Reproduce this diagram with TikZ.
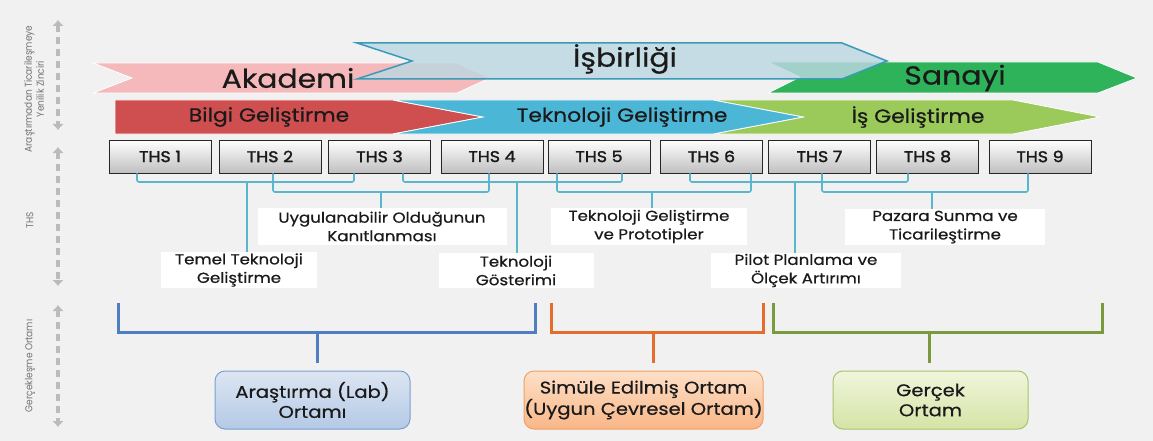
\documentclass[tikz,border=0pt]{standalone}
\usepackage{fontspec}
\setmainfont{Poppins}[FakeStretch=1.15,FakeBold=0.6]
\newfontfamily\thsf{Poppins}[FakeStretch=1.12,FakeBold=1.8]
\newfontfamily\axf{Poppins}[FakeStretch=0.9]
\usetikzlibrary{arrows.meta}
\definecolor{bgc}{HTML}{F1F1F1}
\definecolor{akc}{HTML}{F5B9BB}
\definecolor{isc}{HTML}{BCD8E2}
\definecolor{isd}{HTML}{3B9AB8}
\definecolor{sac}{HTML}{2EB35B}
\definecolor{bgl}{HTML}{CF4F50}
\definecolor{tkc}{HTML}{4BB6D6}
\definecolor{igc}{HTML}{9BC95A}
\definecolor{cnc}{HTML}{5AB6CC}
\definecolor{ubc}{HTML}{4F7FC0}
\definecolor{uoc}{HTML}{E46C2C}
\definecolor{ugc}{HTML}{7A9A3E}
\definecolor{txc}{HTML}{1A1A1A}
\definecolor{axc}{HTML}{BBBBBB}
\definecolor{e1d}{HTML}{7A9FD0}
\definecolor{e1t}{HTML}{DCE6F2}
\definecolor{e1b}{HTML}{B4C9E6}
\definecolor{e2d}{HTML}{F2A064}
\definecolor{e2t}{HTML}{FDE0C8}
\definecolor{e2b}{HTML}{F9B687}
\definecolor{e3d}{HTML}{A8C46A}
\definecolor{e3t}{HTML}{F0F5DC}
\definecolor{e3b}{HTML}{D5E4A6}
\newcommand\fsz[2]{\fontsize{#1}{#2}\selectfont}
\begin{document}
\begin{tikzpicture}[x=1pt,y=-1pt,
  band/.style={draw=white,line width=0.8pt},
  bigtxt/.style={text=txc,font=\fsz{26}{28}},
  bandtxt/.style={text=txc,font=\fsz{19}{21}},
  ths/.style={draw=black!85,line width=0.9pt,top color=white,bottom color=black!25,
    minimum width=102pt,minimum height=33pt,inner sep=0pt,text=txc,font=\thsf\fsz{15.5}{17}},
  lab/.style={fill=white,align=center,inner sep=0pt,text=txc,font=\fsz{14.5}{18.5}},
  conn/.style={draw=cnc,line width=1.6pt,rounded corners=2pt},
  ubr/.style={line width=3pt},
  env/.style={rounded corners=10pt,line width=1pt,align=center,inner sep=0pt,
    minimum height=58pt,text=txc,font=\fsz{17}{20}},
  axis/.style={draw=axc,line width=4pt,dash pattern=on 7pt off 5pt,
    {Latex[length=6pt,width=12pt]}-{Latex[length=6pt,width=12pt]}},
  axtxt/.style={rotate=90,text=black!55,font=\axf\fsz{10}{12},align=center}]
\useasboundingbox (0,0) rectangle (1153,441);
\fill[bgc] (0,0) rectangle (1153,441);

% left axis
\draw[axis] (58,20) -- (58,130);
\draw[axis] (58,147) -- (58,286);
\draw[axis] (58,305) -- (58,427);
\node[axtxt] (ax1) at (34,89) {Araştırmadan Ticarileşmeye\\Yenilik Zinciri};
\node[axtxt] (ax2) at (30,220) {THS};
\node[axtxt] (ax3) at (30,366) {Gerçekleşme Ortamı};

% top row
\fill[akc,band] (93,63) -- (457,63) -- (490,78) -- (457,93) -- (93,93) -- (132,78) -- cycle;
\fill[sac,band] (768,62) -- (1098,62) -- (1137,78) -- (1098,93) -- (768,93) -- (800,77) -- cycle;
\filldraw[fill=isc,fill opacity=0.82,draw=isd,line width=1.5pt]
  (357,43) -- (842,43) -- (887,61) -- (842,79) -- (357,79) -- (412,61) -- cycle;
\node[bigtxt] (akademi) at (288,78) {Akademi};
\node[bigtxt] (isbirligi) at (625,59) {İşbirliği};
\node[bigtxt] (sanayi) at (955,78) {Sanayi};

% second row
\fill[bgl,band] (115,100) -- (393,100) -- (483,117) -- (393,134) -- (115,134) -- cycle;
\fill[igc,band] (713,100) -- (1013,100) -- (1100,117) -- (1013,134) -- (713,134) -- (803,117) -- cycle;
\fill[tkc,band] (393,100) -- (713,100) -- (803,117) -- (713,134) -- (393,134) -- (483,117) -- cycle;
\node[bandtxt] (bilgi) at (269,117) {Bilgi Geliştirme};
\node[bandtxt] (tekno) at (622,117) {Teknoloji Geliştirme};
\node[bandtxt] (isgel) at (918,117) {İş Geliştirme};

% THS boxes
\node[ths] (ths1) at (160,156.5) {THS 1};
\node[ths] (ths2) at (270,156.5) {THS 2};
\node[ths] (ths3) at (379.5,156.5) {THS 3};
\node[ths] (ths4) at (492,156.5) {THS 4};
\node[ths] (ths5) at (599,156.5) {THS 5};
\node[ths] (ths6) at (711.5,156.5) {THS 6};
\node[ths] (ths7) at (819.5,156.5) {THS 7};
\node[ths] (ths8) at (927.5,156.5) {THS 8};
\node[ths] (ths9) at (1040,156.5) {THS 9};

% labels
\node[lab,minimum width=156pt,minimum height=36pt] (lab1) at (239,270) {Temel Teknoloji\\Geliştirme};
\node[lab,minimum width=249pt,minimum height=37pt] (lab2) at (382,226.5) {Uygulanabilir Olduğunun\\Kanıtlanması};
\node[lab,minimum width=155pt,minimum height=35pt] (lab3) at (516,270.5) {Teknoloji\\Gösterimi};
\node[lab,minimum width=196pt,minimum height=37pt] (lab4) at (649,226.5) {Teknoloji Geliştirme\\ve Prototipler};
\node[lab,minimum width=190pt,minimum height=35pt] (lab5) at (806,270.5) {Pilot Planlama ve\\Ölçek Artırımı};
\node[lab,minimum width=200pt,minimum height=36pt] (lab6) at (945,227) {Pazara Sunma ve\\Ticarileştirme};

% brackets
\coordinate (b1l) at (137,182); \coordinate (b1r) at (354,182); \coordinate (b1s) at (247,182);
\coordinate (b2l) at (273,192); \coordinate (b2r) at (489,192); \coordinate (b2s) at (381,192);
\coordinate (b3l) at (403,182); \coordinate (b3r) at (622,182); \coordinate (b3s) at (517,182);
\coordinate (b4l) at (557,192); \coordinate (b4r) at (751,192); \coordinate (b4s) at (652,192);
\coordinate (b5l) at (690,182); \coordinate (b5r) at (908,182); \coordinate (b5s) at (795,182);
\coordinate (b6l) at (822,192); \coordinate (b6r) at (1028,192); \coordinate (b6s) at (932,192);
\draw[conn] (ths1.south -| b1l) -- (b1l) -- (b1r) -- (ths3.south -| b1r);
\draw[conn] (ths2.south -| b2l) -- (b2l) -- (b2r) -- (ths4.south -| b2r);
\draw[conn] (ths3.south -| b3l) -- (b3l) -- (b3r) -- (ths5.south -| b3r);
\draw[conn] (ths5.south -| b4l) -- (b4l) -- (b4r) -- (ths6.south -| b4r);
\draw[conn] (ths6.south -| b5l) -- (b5l) -- (b5r) -- (ths8.south -| b5r);
\draw[conn] (ths7.south -| b6l) -- (b6l) -- (b6r) -- (ths9.south -| b6r);
\draw[conn] (b1s) -- (b1s |- lab1.north);
\draw[conn] (b2s) -- (b2s |- lab2.north);
\draw[conn] (b3s) -- (b3s |- lab3.north);
\draw[conn] (b4s) -- (b4s |- lab4.north);
\draw[conn] (b5s) -- (b5s |- lab5.north);
\draw[conn] (b6s) -- (b6s |- lab6.north);

% environments
\node[env,draw=e1d,top color=e1t,bottom color=e1b,minimum width=195pt] (env1) at (312.5,400) {Araştırma (Lab)\\Ortamı};
\node[env,draw=e2d,top color=e2t,bottom color=e2b,minimum width=239pt] (env2) at (643.5,400) {Simüle Edilmiş Ortam\\(Uygun Çevresel Ortam)};
\node[env,draw=e3d,top color=e3t,bottom color=e3b,minimum width=195pt] (env3) at (930.5,400) {Gerçek\\Ortam};

% bottom brackets
\coordinate (u1l) at (118,303); \coordinate (u1m) at (317,332); \coordinate (u1r) at (535,303); \coordinate (u1e) at (317,363);
\coordinate (u2l) at (551,303); \coordinate (u2m) at (653,332); \coordinate (u2r) at (763,303); \coordinate (u2e) at (653,363);
\coordinate (u3l) at (773,303); \coordinate (u3m) at (929,332); \coordinate (u3r) at (1102,303); \coordinate (u3e) at (929,363);
\draw[ubr,draw=ubc] (u1l) |- (u1m) -| (u1r);
\draw[ubr,draw=ubc] (u1m) -- (u1e);
\draw[ubr,draw=uoc] (u2l) |- (u2m) -| (u2r);
\draw[ubr,draw=uoc] (u2m) -- (u2e);
\draw[ubr,draw=ugc] (u3l) |- (u3m) -| (u3r);
\draw[ubr,draw=ugc] (u3m) -- (u3e);
\end{tikzpicture}
\end{document}
